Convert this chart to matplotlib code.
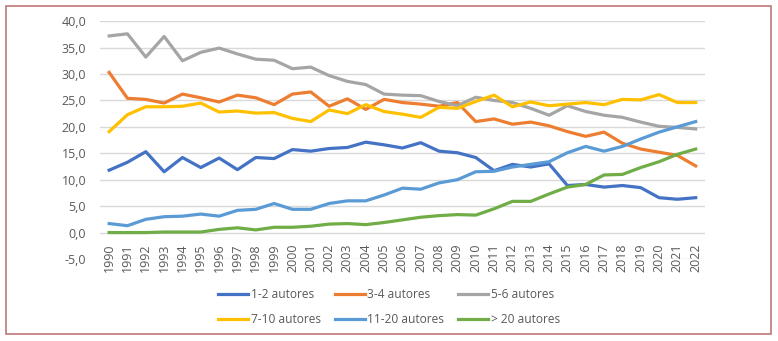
import matplotlib
matplotlib.use("Agg")
from matplotlib import pyplot as plt
from matplotlib.patches import Rectangle
from matplotlib.ticker import FuncFormatter, MultipleLocator

plt.rcParams['font.family'] = ['Open Sans', 'DejaVu Sans']

years = list(range(1990, 2023))

autores_1_2 = [11.8, 13.3, 15.3, 11.5, 14.2, 12.3, 14.1, 11.9, 14.2, 14.0,
               15.7, 15.4, 15.9, 16.1, 17.1, 16.6, 16.0, 17.0, 15.4, 15.1,
               14.2, 11.7, 12.9, 12.4, 13.0, 8.9, 9.1, 8.6, 8.9, 8.5,
               6.6, 6.3, 6.6]
autores_3_4 = [30.3, 25.4, 25.2, 24.5, 26.2, 25.5, 24.7, 26.0, 25.5, 24.2,
               26.2, 26.6, 23.9, 25.3, 23.3, 25.2, 24.6, 24.3, 23.9, 24.6,
               21.0, 21.5, 20.5, 20.9, 20.2, 19.1, 18.2, 19.0, 16.9, 15.8,
               15.2, 14.6, 12.6]
autores_5_6 = [37.2, 37.6, 33.2, 37.1, 32.5, 34.1, 34.9, 33.8, 32.8, 32.6,
               31.0, 31.3, 29.7, 28.6, 28.0, 26.2, 26.0, 25.9, 24.8, 24.0,
               25.6, 25.0, 24.6, 23.5, 22.2, 24.0, 22.9, 22.2, 21.8, 20.9,
               20.1, 19.9, 19.6]
autores_7_10 = [19.1, 22.3, 23.8, 23.8, 23.9, 24.5, 22.8, 23.0, 22.6, 22.7,
                21.6, 21.0, 23.2, 22.5, 24.2, 22.9, 22.4, 21.8, 23.7, 23.5,
                24.8, 26.0, 23.8, 24.7, 24.0, 24.3, 24.6, 24.2, 25.2, 25.1,
                26.1, 24.6, 24.6]
autores_11_20 = [1.7, 1.3, 2.5, 3.0, 3.1, 3.5, 3.1, 4.2, 4.4, 5.5,
                 4.4, 4.4, 5.5, 6.0, 6.0, 7.1, 8.4, 8.2, 9.4, 10.0,
                 11.5, 11.6, 12.4, 12.9, 13.4, 15.1, 16.3, 15.4, 16.3, 17.7,
                 19.0, 20.0, 21.0]
autores_20 = [0.0, 0.0, 0.0, 0.1, 0.1, 0.1, 0.6, 0.9, 0.5, 1.0,
              1.0, 1.2, 1.6, 1.7, 1.5, 1.9, 2.4, 2.9, 3.2, 3.4,
              3.3, 4.5, 5.9, 5.9, 7.3, 8.6, 9.1, 10.9, 11.0, 12.3,
              13.4, 14.8, 15.8]

series = [
    ("1-2 autores", autores_1_2, "#4472C4"),
    ("3-4 autores", autores_3_4, "#ED7D31"),
    ("5-6 autores", autores_5_6, "#A5A5A5"),
    ("7-10 autores", autores_7_10, "#FFC000"),
    ("11-20 autores", autores_11_20, "#5B9BD5"),
    ("> 20 autores", autores_20, "#70AD47"),
]

fig = plt.figure(figsize=(7.78, 3.41), dpi=100)
ax = fig.add_axes([0.1285, 0.2405, 0.7775, 0.6975])

x = list(range(len(years)))
lines = []
for name, vals, col in series:
    l, = ax.plot(x, vals, color=col, lw=2.3, label=name, solid_joinstyle='round')
    lines.append(l)

ax.set_xlim(-0.5, len(years) - 0.5)
ax.set_ylim(-5, 40)
ax.yaxis.set_major_locator(MultipleLocator(5))
ax.yaxis.set_major_formatter(FuncFormatter(lambda v, p: ("%.1f" % v).replace(".", ",")))
ax.grid(axis='y', color='#D9D9D9', lw=1)
ax.set_axisbelow(True)

# x axis crosses at 0, labels hang below it
ax.spines['bottom'].set_position(('data', 0))
ax.set_xticks(x)
ax.set_xticklabels([str(y) for y in years])
for s in ['top', 'right', 'left', 'bottom']:
    ax.spines[s].set_visible(False)
ax.tick_params(axis='both', length=0, labelsize=9, colors='#595959')
ax.tick_params(axis='x', pad=8, labelrotation=90)
ax.tick_params(axis='y', pad=10)

# legend filled row by row like Excel
order = [0, 3, 1, 4, 2, 5]
fig.legend([lines[i] for i in order], [series[i][0] for i in order],
           loc='center', bbox_to_anchor=(0.5, 0.1), ncol=3, frameon=False,
           fontsize=8.6, handlelength=2.5, handletextpad=0.2, columnspacing=1.2,
           labelspacing=1.0, labelcolor='#595959')

fig.patches.append(Rectangle((6 / 778, 7 / 341), 765 / 778, 328 / 341,
                             transform=fig.transFigure, fill=False,
                             edgecolor='#C07878', lw=1.2))

fig.savefig("out.png", dpi=100)
